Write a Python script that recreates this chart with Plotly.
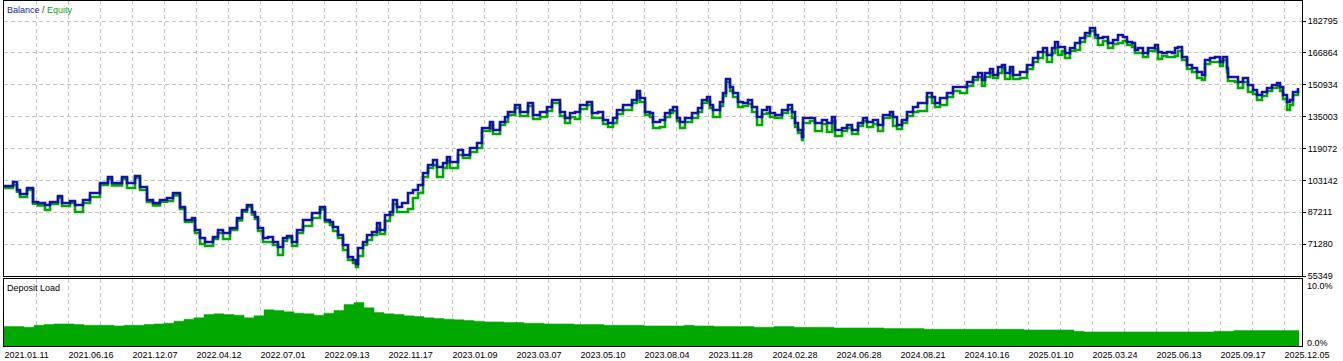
import plotly.graph_objects as go

# ---------------- data ----------------
deals = [
    0, 9, 13, 16, 23, 29, 34, 41, 46, 54, 58, 66, 71, 79, 86, 96, 104, 108, 118, 123,
    131, 136, 143, 149, 156, 163, 169, 176, 181, 188, 191, 196, 201, 209, 214, 219, 226, 233, 238, 243,
    248, 251, 254, 259, 264, 269, 274, 279, 283, 288, 293, 299, 308, 316, 321, 326,
    329, 334, 339, 344, 349, 352, 354, 359, 363, 368, 373, 376, 381, 386, 389, 393, 398, 404, 409, 414,
    419, 424, 429, 433, 439, 443, 446, 454, 459, 466, 473, 478, 486, 489, 496, 501, 504, 511, 516, 524,
    529, 536, 543, 548, 556, 561, 566, 571, 576, 583, 588, 594, 599, 604, 609, 613, 619, 628, 633, 636,
    641, 646, 649, 656,
    661, 666, 669, 673, 676, 681, 688, 694, 698, 703, 706, 709, 716, 719, 722, 726, 729, 734, 739, 744,
    748, 753, 758, 763, 766, 771, 778, 784, 788, 791, 794, 798, 799, 806, 811, 818, 823, 828, 831, 838,
    843, 848, 854, 859, 863, 869, 874, 879, 886, 889, 893, 898, 903, 909, 914, 923, 928, 931, 936, 943,
    949, 956, 963, 969, 974, 978, 981, 986,
    989, 994, 998, 1001, 1006, 1009, 1016, 1023, 1029, 1034, 1039, 1043, 1048, 1051, 1054, 1058, 1061, 1066, 1071, 1076,
    1081, 1086, 1088, 1091, 1094, 1099, 1104, 1109, 1114, 1119, 1123, 1128, 1131, 1134, 1139, 1144, 1151, 1154, 1158, 1163,
    1168, 1171, 1174, 1178, 1183, 1188, 1193, 1198, 1201, 1206, 1211, 1216, 1219, 1223, 1224, 1231, 1234, 1239, 1244, 1249,
    1253, 1258, 1263, 1268, 1273, 1276, 1279, 1283, 1286, 1289, 1294,
]

balance = [
    100330, 102330, 98330, 96330, 99330, 92330, 91830, 90840, 92330, 95330, 91830, 92830, 90840, 93330, 96830, 101830,
    104830, 101830, 104830, 101830, 105330, 99830, 93330, 91830, 93330, 94330, 96830, 89840, 83340, 84340, 78340, 74340,
    72340, 74840, 78340, 76840, 79340, 84340, 88340, 90840, 87340, 84840, 79340, 74340, 74840, 72340, 69840, 74340,
    75340, 72340, 78340, 83340, 86840, 89840, 83340, 82340,
    79840, 75840, 70840, 64850, 63350, 61350, 69340, 72340, 75840, 77340, 81840, 78340, 85840, 87340, 93330, 89840,
    91830, 96830, 98330, 100830, 106830, 110830, 113330, 109830, 111830, 114830, 112330, 118320, 115830, 119320, 121820, 129320,
    132320, 128320, 132320, 134820, 137320, 140820, 137320, 141810, 135820, 137320, 139820, 143310, 137320, 134320, 136820, 137320,
    140820, 142310, 136820, 137320, 133320, 131820, 134320, 138320, 140820, 143310, 147810, 144310, 137320, 136820, 132320, 133320,
    136820, 138320, 139820, 134320, 132320, 134320, 136820, 139320, 143310, 144810, 140820, 138320, 142310, 146810, 153810, 149810,
    146810, 142310, 141810, 143310, 139820, 134820, 138320, 139820, 136820, 135820, 138320, 140820, 137320, 131820, 128320, 124820,
    134320, 134320, 131820, 133320, 131820, 134820, 128320, 129320, 130820, 128320, 131820, 134320, 132320, 133320, 130820, 135820,
    137320, 134820, 130820, 133320, 137320, 139820, 141810, 146810, 144810, 141810, 144310, 146810, 149810, 149810, 152310, 154810,
    156810, 153310, 156810, 158810,
    155810, 159810, 160810, 156810, 159810, 155810, 157310, 160810, 164310, 167300, 169300, 165810, 169300, 172300, 169800, 169800,
    166800, 169300, 171800, 174300, 176800, 179300, 179300, 175800, 174300, 174800, 171800, 173300, 175800, 174800, 172300, 171800,
    168300, 169300, 166800, 169300, 170800, 167300, 166800, 167300, 166800, 169300, 169800, 164810, 160810, 159310, 157310, 155810,
    163310, 164310, 164810, 162310, 164810, 159310, 154810, 154810, 152310, 154310, 150810, 148310, 145810, 147310, 149310, 150810,
    151810, 149810, 145810, 142310, 143310, 147310, 149310,
]

floating_loss = [
    1000, 1500, 800, 1500, 1000, 800, 1200, 2500, 1000, 800, 1500, 1000, 3500, 1500, 2000, 1000, 1000, 1200, 800, 2500,
    1000, 1500, 1000, 1200, 800, 1500, 1200, 1000, 1000, 1200, 1500, 3000, 2000, 1000, 1500, 3000, 1000, 1200, 800, 1000,
    1200, 1000, 1500, 2000, 2500, 1500, 4000, 1500, 1000, 2000, 1500, 3000, 2500, 1200, 1000, 1500,
    2000, 1500, 2500, 1500, 1500, 1500, 4000, 1500, 2500, 1500, 3000, 2000, 3000, 1500, 2000, 2500, 4500, 8000, 4000, 4000,
    2000, 1500, 2500, 5000, 2500, 2000, 3000, 2500, 1500, 2000, 2500, 1500, 1500, 2000, 1500, 2500, 1500, 1500, 2000, 1500,
    2000, 2500, 2000, 1500, 2000, 2500, 2000, 3500, 2000, 1500, 2500, 3000, 2000, 2000, 2500, 2000, 2500, 1500, 1500, 2000,
    1500, 2000, 3000, 3500,
    2000, 1500, 2000, 1500, 3000, 2000, 2500, 2000, 1500, 2000, 1500, 3500, 2000, 1500, 1500, 2000, 2000, 2500, 1500, 2000,
    2500, 4000, 2000, 3000, 2000, 1500, 1500, 2000, 3000, 2000, 1500, 1500, 2500, 1500, 4000, 2000, 4500, 2000, 3000, 1500,
    1500, 2000, 1500, 1500, 2500, 2000, 3000, 1500, 2000, 4500, 2000, 1500, 2000, 2500, 4000, 2000, 3000, 2000, 3500, 2000,
    2000, 3000, 2000, 1500, 2000, 3000, 2000, 2000,
    1500, 3000, 1500, 3000, 1500, 2000, 3000, 2000, 2000, 3000, 2000, 3500, 2500, 3000, 4000, 2000, 2500, 1500, 3500, 2000,
    1500, 1500, 1500, 1500, 3500, 2000, 2500, 2000, 4000, 2000, 1500, 2000, 1500, 2500, 2000, 1500, 2000, 3500, 1500, 2500,
    2000, 4000, 2000, 1500, 2000, 2000, 3000, 2500, 2000, 2000, 2500, 2000, 1500, 2000, 2000, 2500, 3000, 2000, 3500, 2000,
    2500, 2000, 1500, 1500, 1500, 2000, 2000, 4000, 2500, 1500, 1000,
]

equity = [b - f for b, f in zip(balance, floating_loss)]

load_deals = list(range(0, 1300, 10)) + [1295]
deposit_load = [
    2.9, 2.9, 2.8, 3.1, 3.2, 3.3, 3.3, 3.2, 3.1, 3.1,
    3.1, 3.0, 3.1, 3.1, 3.2, 3.3, 3.4, 3.7, 4.0, 4.2,
    4.7, 4.8, 4.7, 4.6, 4.2, 4.5, 5.4, 5.3, 5.1, 4.9,
    4.8, 4.6, 4.9, 5.3, 6.2, 6.5, 5.7, 5.0, 4.8, 4.7,
    4.5, 4.4, 4.2, 4.1, 4.0, 3.9, 3.8, 3.7, 3.6, 3.6,
    3.5, 3.5, 3.4, 3.4, 3.3, 3.3, 3.3, 3.2, 3.2, 3.2,
    3.1, 3.1, 3.1, 3.1, 3.0, 3.0, 3.0, 3.0, 3.1, 3.0,
    3.0, 2.9, 2.9, 2.9, 2.9, 2.8, 2.8, 2.9, 2.9, 2.8,
    2.8, 2.8, 2.8, 2.7, 2.7, 2.7, 2.7, 2.7, 2.6, 2.6,
    2.6, 2.6, 2.5, 2.5, 2.5, 2.5, 2.5, 2.5, 2.5, 2.5,
    2.5, 2.5, 2.4, 2.4, 2.4, 2.4, 2.4, 2.2, 2.1, 2.1,
    2.1, 2.1, 2.1, 2.1, 2.1, 2.1, 2.1, 2.1, 2.1, 2.1,
    2.1, 2.2, 2.2, 2.3, 2.3, 2.3, 2.3, 2.3, 2.3, 2.3,
    2.3,
]

date_labels = [
    "2021.01.11", "2021.06.16", "2021.12.07", "2022.04.12", "2022.07.01", "2022.09.13", "2022.11.17",
    "2023.01.09", "2023.03.07", "2023.05.10", "2023.08.04", "2023.11.28", "2024.02.28", "2024.06.28",
    "2024.08.21", "2024.10.16", "2025.01.10", "2025.03.24", "2025.06.13", "2025.09.17", "2025.12.05",
]
label_step = 64  # deals between labelled ticks
y_ticks = [55349, 71280, 87211, 103142, 119072, 135003, 150934, 166864, 182795]

# ---------------- figure ----------------
grid_vals = []
grid_text = []
for i, lab in enumerate(date_labels):
    grid_vals.append(i * label_step)
    grid_text.append(lab)
    grid_vals.append(i * label_step + label_step // 2)
    grid_text.append("")

BLUE = "#1212a4"
GREEN = "#00a800"
GRID = "#c4c4c4"
FONT = "Liberation Sans"

fig = go.Figure()
fig.add_trace(go.Scatter(x=deals, y=equity, mode="lines", line=dict(color=GREEN, width=2.6, shape="hv"),
                         xaxis="x", yaxis="y", hoverinfo="skip", showlegend=False))
fig.add_trace(go.Scatter(x=deals, y=balance, mode="lines", line=dict(color=BLUE, width=2.6, shape="hv"),
                         xaxis="x", yaxis="y", hoverinfo="skip", showlegend=False))
fig.add_trace(go.Scatter(x=load_deals, y=deposit_load, mode="lines", fill="tozeroy", fillcolor=GREEN,
                         line=dict(color=GREEN, width=0.5, shape="hv"),
                         xaxis="x2", yaxis="y2", hoverinfo="skip", showlegend=False))

top_lo = 70 / 345
bot_hi = 67 / 345

common_x = dict(range=[0, 1298], tickmode="array", tickvals=grid_vals, showgrid=True, gridcolor=GRID,
                griddash="4px,3px", gridwidth=1, showline=True, mirror=True, linecolor="black", linewidth=1,
                zeroline=False, ticks="")

fig.update_layout(
    width=1343, height=361,
    margin=dict(l=4, r=41, t=1, b=15),
    paper_bgcolor="white", plot_bgcolor="white",
    font=dict(family=FONT, size=9, color="black"),
    xaxis=dict(**common_x, domain=[0, 1], anchor="y", showticklabels=False),
    xaxis2=dict(**common_x, domain=[0, 1], anchor="y2", matches="x", ticktext=grid_text,
                ticklabelposition="outside right", tickfont=dict(size=9, family=FONT, color="black")),
    yaxis=dict(domain=[top_lo, 1], range=[55349, 192790], side="right", tickmode="array",
               tickvals=y_ticks, ticktext=[str(v) for v in y_ticks], ticks="outside", ticklen=3,
               tickcolor="black", showgrid=True, gridcolor=GRID, griddash="4px,3px", gridwidth=1,
               showline=True, mirror=True, linecolor="black", linewidth=1, zeroline=False,
               tickfont=dict(size=9, family=FONT, color="black")),
    yaxis2=dict(domain=[0, bot_hi], range=[0, 10], side="right", showticklabels=False, ticks="",
                showgrid=False, showline=True, mirror=True, linecolor="black", linewidth=1, zeroline=False),
    annotations=[
        dict(text='<span style="color:#1a1ab4">Balance</span> / <span style="color:#14a014">Equity</span>',
             xref="paper", yref="paper", x=0, y=1, xanchor="left", yanchor="top", xshift=1, yshift=-2,
             showarrow=False, font=dict(size=9, family=FONT, color="#303030")),
        dict(text="Deposit Load", xref="paper", yref="paper", x=0, y=bot_hi, xanchor="left", yanchor="top",
             xshift=1, yshift=-2, showarrow=False, font=dict(size=9, family=FONT, color="black")),
        dict(text="10.0%", xref="paper", yref="paper", x=1, y=bot_hi, xanchor="left", yanchor="top",
             xshift=3, yshift=0, showarrow=False, font=dict(size=9, family=FONT, color="black")),
        dict(text="0.0%", xref="paper", yref="paper", x=1, y=0, xanchor="left", yanchor="middle",
             xshift=3, yshift=3, showarrow=False, font=dict(size=9, family=FONT, color="black")),
    ],
)

fig.write_html("out.html")
